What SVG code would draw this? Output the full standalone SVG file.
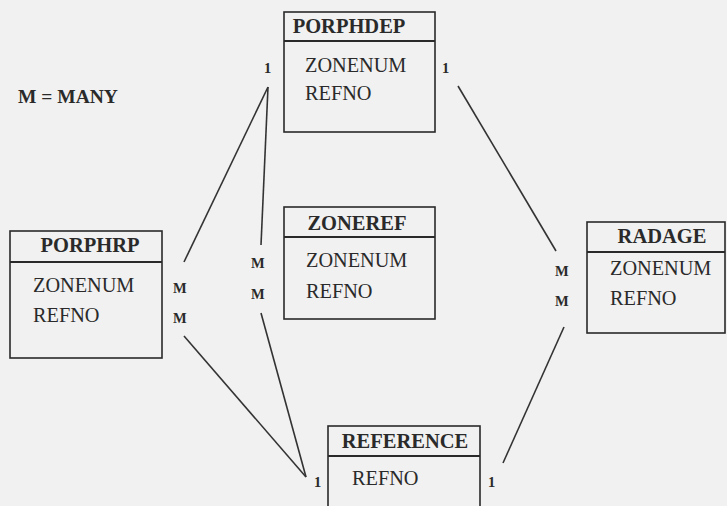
<svg xmlns="http://www.w3.org/2000/svg" width="727" height="506" viewBox="0 0 727 506">
<style>
.bx{fill:none;stroke:#2a2a2a;stroke-width:1.6}
.hd{stroke:#2a2a2a;stroke-width:2.2}
text{font-family:'Liberation Serif','Times New Roman',Tinos,'DejaVu Serif',serif;fill:#2a2a2a}
.ti{font-weight:bold;font-size:20.5px;text-anchor:middle}
.fd{font-size:20.3px}
.cd{font-weight:bold;font-size:14.5px}
.ln{stroke:#333;stroke-width:1.6;fill:none}
</style>
<rect width="727" height="506" fill="#f1f1f1"/>
<text x="18" y="103" font-weight="bold" font-size="19.5">M = MANY</text>
<g id="porphdep">
<rect x="284" y="12" width="151" height="120" class="bx"/>
<line x1="284" y1="41" x2="435" y2="41" class="hd"/>
<text x="349" y="33" class="ti">PORPHDEP</text>
<text x="305" y="72" class="fd">ZONENUM</text>
<text x="305" y="100" class="fd">REFNO</text>
</g>
<g id="porphrp">
<rect x="10" y="231" width="152" height="127" class="bx"/>
<line x1="10" y1="262" x2="162" y2="262" class="hd"/>
<text x="90" y="252" class="ti">PORPHRP</text>
<text x="33" y="292" class="fd">ZONENUM</text>
<text x="33" y="322" class="fd">REFNO</text>
</g>
<g id="zoneref">
<rect x="284" y="207" width="151" height="112" class="bx"/>
<line x1="284" y1="237" x2="435" y2="237" class="hd"/>
<text x="357" y="230" class="ti">ZONEREF</text>
<text x="306" y="267" class="fd">ZONENUM</text>
<text x="306" y="298" class="fd">REFNO</text>
</g>
<g id="radage">
<rect x="587" y="222" width="138" height="111" class="bx"/>
<line x1="587" y1="252" x2="725" y2="252" class="hd"/>
<text x="662" y="243" class="ti">RADAGE</text>
<text x="610" y="275" class="fd">ZONENUM</text>
<text x="610" y="305" class="fd">REFNO</text>
</g>
<g id="reference">
<rect x="328" y="426" width="152" height="100" class="bx"/>
<line x1="328" y1="456" x2="480" y2="456" class="hd"/>
<text x="405" y="448" class="ti">REFERENCE</text>
<text x="352" y="485" class="fd">REFNO</text>
</g>
<g id="connectors">
<line x1="268" y1="87" x2="184" y2="262" class="ln"/>
<line x1="268" y1="87" x2="261" y2="245" class="ln"/>
<line x1="458" y1="86" x2="556" y2="251" class="ln"/>
<line x1="184" y1="336" x2="306" y2="477" class="ln"/>
<line x1="261" y1="313" x2="306" y2="477" class="ln"/>
<line x1="564" y1="327" x2="503" y2="463" class="ln"/>
<text x="264" y="73" class="cd">1</text>
<text x="442" y="73" class="cd">1</text>
<text x="173" y="293" class="cd">M</text>
<text x="173" y="323" class="cd">M</text>
<text x="251" y="268" class="cd">M</text>
<text x="251" y="299" class="cd">M</text>
<text x="555" y="276" class="cd">M</text>
<text x="555" y="306" class="cd">M</text>
<text x="314" y="487" class="cd">1</text>
<text x="488" y="487" class="cd">1</text>
</g>
</svg>
